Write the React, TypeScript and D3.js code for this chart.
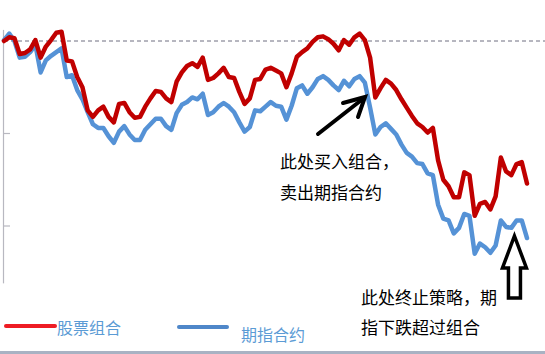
import React from 'react';
import * as d3 from 'd3';

// trading day index 0..100, net value normalised to 1.0 at start
const stockPortfolio = [
  1.000, 1.004, 1.003, 0.986, 0.987, 0.991, 1.001, 0.982, 0.994, 1.001,
  1.009, 1.010, 0.979, 0.978, 0.961, 0.950, 0.925, 0.918, 0.925, 0.929,
  0.918, 0.912, 0.932, 0.933, 0.923, 0.917, 0.918, 0.929, 0.938, 0.946,
  0.945, 0.938, 0.934, 0.956, 0.966, 0.973, 0.976, 0.972, 0.982, 0.958,
  0.960, 0.965, 0.971, 0.961, 0.960, 0.945, 0.932, 0.938, 0.958, 0.959,
  0.969, 0.971, 0.968, 0.965, 0.950, 0.965, 0.983, 0.988, 0.992, 0.999,
  1.004, 1.005, 1.002, 0.997, 0.990, 1.001, 0.996, 1.004, 1.008, 1.001,
  0.982, 0.939, 0.949, 0.958, 0.954, 0.947, 0.937, 0.928, 0.919, 0.911,
  0.907, 0.901, 0.906, 0.871, 0.850, 0.843, 0.831, 0.831, 0.858, 0.855,
  0.811, 0.824, 0.826, 0.818, 0.832, 0.874, 0.859, 0.855, 0.867, 0.869,
  0.846,
];

const futuresContract = [
  1.001, 1.008, 1.000, 0.982, 0.983, 0.988, 0.996, 0.966, 0.979, 0.984,
  0.988, 0.992, 0.961, 0.963, 0.947, 0.937, 0.923, 0.910, 0.906, 0.906,
  0.897, 0.890, 0.902, 0.908, 0.899, 0.893, 0.893, 0.904, 0.910, 0.916,
  0.916, 0.908, 0.904, 0.922, 0.931, 0.934, 0.939, 0.937, 0.943, 0.920,
  0.923, 0.929, 0.933, 0.929, 0.923, 0.912, 0.902, 0.907, 0.925, 0.924,
  0.929, 0.934, 0.930, 0.929, 0.915, 0.930, 0.949, 0.952, 0.943, 0.950,
  0.959, 0.962, 0.958, 0.952, 0.947, 0.957, 0.951, 0.959, 0.962, 0.955,
  0.928, 0.899, 0.907, 0.911, 0.905, 0.899, 0.888, 0.879, 0.875, 0.868,
  0.867, 0.857, 0.855, 0.823, 0.808, 0.806, 0.792, 0.798, 0.813, 0.811,
  0.770, 0.781, 0.777, 0.771, 0.779, 0.806, 0.799, 0.798, 0.806, 0.806,
  0.787,
];

const seriesNames = ['股票组合', '期指合约'];
const yTicks = [0.9, 0.8];
const baseline = 1.0;
const note1 = ['此处买入组合，', '卖出期指合约'];
const note2 = ['此处终止策略，期', '指下跌超过组合'];

const W = 545, H = 354;
const RED = '#c00000';
const BLUE = '#5592d6';
const FONT = '"Noto Sans CJK SC", "Noto Sans", sans-serif';

export default function App() {
  const x = d3.scaleLinear().domain([0, stockPortfolio.length - 1]).range([4, 527]);
  const y = d3.scaleLinear().domain([0.8, 1.0]).range([226, 41]);

  const line = d3.line<number>()
    .x((_, i) => x(i))
    .y(d => y(d));

  // hollow up arrow pointing at the final stretch
  const ax = x(97.6);
  const upArrow = [
    [ax, 236], [ax + 12, 268], [ax + 6, 268], [ax + 6, 298],
    [ax - 6, 298], [ax - 6, 268], [ax - 12, 268],
  ];

  return (
    <svg width={W} height={H} style={{ position: 'absolute', left: 0, top: 0, background: '#fff' }}>
      {/* left axis */}
      <line x1={3.5} x2={3.5} y1={y(1.012)} y2={y(0.738)} stroke="#b8b8c0" strokeWidth={1.2} />
      {yTicks.map(t => (
        <line key={t} x1={3} x2={10} y1={y(t)} y2={y(t)} stroke="#b8b8c0" strokeWidth={1.2} />
      ))}
      {/* baseline 1.0 */}
      <line x1={4} x2={W} y1={y(baseline)} y2={y(baseline)} stroke="#6e6e80" strokeWidth={1} strokeDasharray="4,3" />

      <path d={line(futuresContract) || ''} fill="none" stroke={BLUE} strokeWidth={4.5} strokeLinejoin="round" strokeLinecap="round" />
      <path d={line(stockPortfolio) || ''} fill="none" stroke={RED} strokeWidth={4.5} strokeLinejoin="round" strokeLinecap="round" />

      {/* annotation 1 */}
      <line x1={318} y1={134} x2={364} y2={98} stroke="#000" strokeWidth={4} strokeLinecap="round" />
      <polyline points="343,103 365,97 358,117" fill="none" stroke="#000" strokeWidth={4} strokeLinecap="round" strokeLinejoin="miter" />
      {note1.map((t, i) => (
        <text key={t} x={280} y={168 + i * 31} fontSize={17} fontFamily={FONT} fill="#000">{t}</text>
      ))}

      {/* annotation 2 */}
      <polygon points={upArrow.map(p => p.join(',')).join(' ')} fill="#fff" stroke="#000" strokeWidth={3.5} strokeLinejoin="miter" />
      {note2.map((t, i) => (
        <text key={t} x={361} y={304 + i * 30} fontSize={17} fontFamily={FONT} fill="#000">{t}</text>
      ))}

      {/* legend */}
      <line x1={6} x2={55} y1={326} y2={326} stroke="#ee1c24" strokeWidth={4} strokeLinecap="round" />
      <text x={57} y={334} fontSize={16} fontFamily={FONT} fill="#5b9bd5">{seriesNames[0]}</text>
      <line x1={179} x2={227} y1={327} y2={327} stroke="#4f87c9" strokeWidth={4} strokeLinecap="round" />
      <text x={241} y={341} fontSize={16} fontFamily={FONT} fill="#5b9bd5">{seriesNames[1]}</text>

      {/* bottom border strip */}
      <rect x={0} y={351} width={W} height={3} fill="#a9b2c3" />
    </svg>
  );
}
